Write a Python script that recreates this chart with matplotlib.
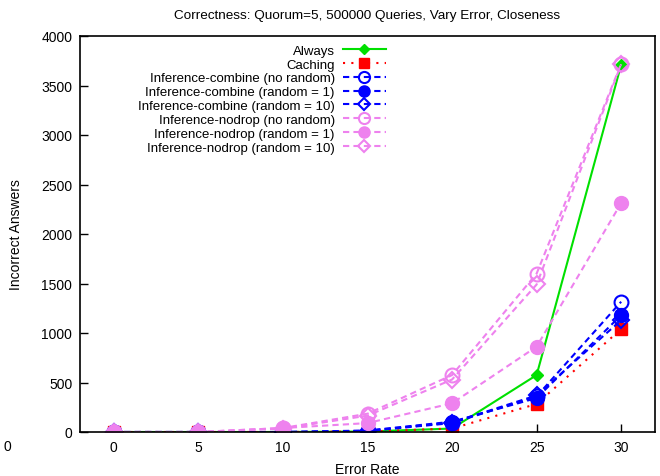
import matplotlib
matplotlib.use('Agg')
import matplotlib.pyplot as plt

plt.rcParams['font.family'] = ['Liberation Sans', 'DejaVu Sans']

error_rate = [0, 5, 10, 15, 20, 25, 30]

always = [0, 0, 0, 5, 35, 575, 3710]
caching = [0, 0, 0, 5, 35, 283, 1040]
comb_norand = [0, 0, -5, 10, 90, 360, 1316]
comb_rand1 = [0, 0, 0, 15, 104, 343, 1180]
comb_rand10 = [0, 0, 0, 12, 95, 370, 1130]
nodrop_norand = [0, 0, 40, 185, 575, 1600, 3720]
nodrop_rand1 = [0, 0, 40, 90, 290, 862, 2313]
nodrop_rand10 = [0, 0, 35, 165, 530, 1490, 3715]

labels = ['Always', 'Caching',
          'Inference-combine (no random)', 'Inference-combine (random = 1)',
          'Inference-combine (random = 10)', 'Inference-nodrop (no random)',
          'Inference-nodrop (random = 1)', 'Inference-nodrop (random = 10)']

GREEN = '#00e000'
RED = '#ff0000'
BLUE = '#0000ff'
VIOLET = '#ee82ee'
dash = (0, (3, 2))
FS = 10

fig = plt.figure(figsize=(6.6, 4.77), dpi=100)
ax = fig.add_axes([80 / 660, 44 / 477, 575 / 660, 396 / 477])

ax.plot(error_rate, always, color=GREEN, lw=1.5, marker='D', ms=6,
        label=labels[0])
ax.plot(error_rate, caching, color=RED, lw=1.5, ls=(0, (1, 3)), marker='s',
        ms=9, label=labels[1])
ax.plot(error_rate, comb_norand, color=BLUE, lw=1.5, ls=dash, marker='o',
        ms=10, mfc='none', mew=1.5, label=labels[2])
ax.plot(error_rate, comb_rand1, color=BLUE, lw=1.5, ls=dash, marker='o',
        ms=10, label=labels[3])
ax.plot(error_rate, comb_rand10, color=BLUE, lw=1.5, ls=dash, marker='D',
        ms=8, mfc='none', mew=1.5, label=labels[4])
ax.plot(error_rate, nodrop_norand, color=VIOLET, lw=1.5, ls=dash, marker='o',
        ms=10, mfc='none', mew=1.5, label=labels[5])
ax.plot(error_rate, nodrop_rand1, color=VIOLET, lw=1.5, ls=dash, marker='o',
        ms=10, label=labels[6])
ax.plot(error_rate, nodrop_rand10, color=VIOLET, lw=1.5, ls=dash, marker='D',
        ms=8, mfc='none', mew=1.5, label=labels[7])

ax.set_xlim(-2, 32)
ax.set_ylim(0, 4000)
ax.set_xticks(error_rate)
ax.set_yticks(range(0, 4001, 500))
ax.tick_params(direction='in', length=6, width=1, labelsize=FS, pad=5.5)
for s in ax.spines.values():
    s.set_linewidth(1.2)

ax.set_xlabel('Error Rate', fontsize=FS, labelpad=6)
ax.set_ylabel('Incorrect Answers', fontsize=FS, labelpad=13)
ax.set_title('Correctness: Quorum=5, 500000 Queries, Vary Error, Closeness',
             fontsize=9.7, pad=13)

leg = ax.legend(loc='upper left', bbox_to_anchor=(0.086, 1.0), frameon=False,
                fontsize=9.5, markerfirst=False, handlelength=3.3,
                handletextpad=0.6, labelspacing=0.12, borderaxespad=0.25,
                markerscale=0.8)
for t in leg.get_texts():
    t.set_ha('right')
leg._legend_box.align = 'right'

fig.text(3 / 660, 1 - 447 / 477, '0', fontsize=FS, va='center', ha='left')

fig.savefig('out.png', dpi=100)
